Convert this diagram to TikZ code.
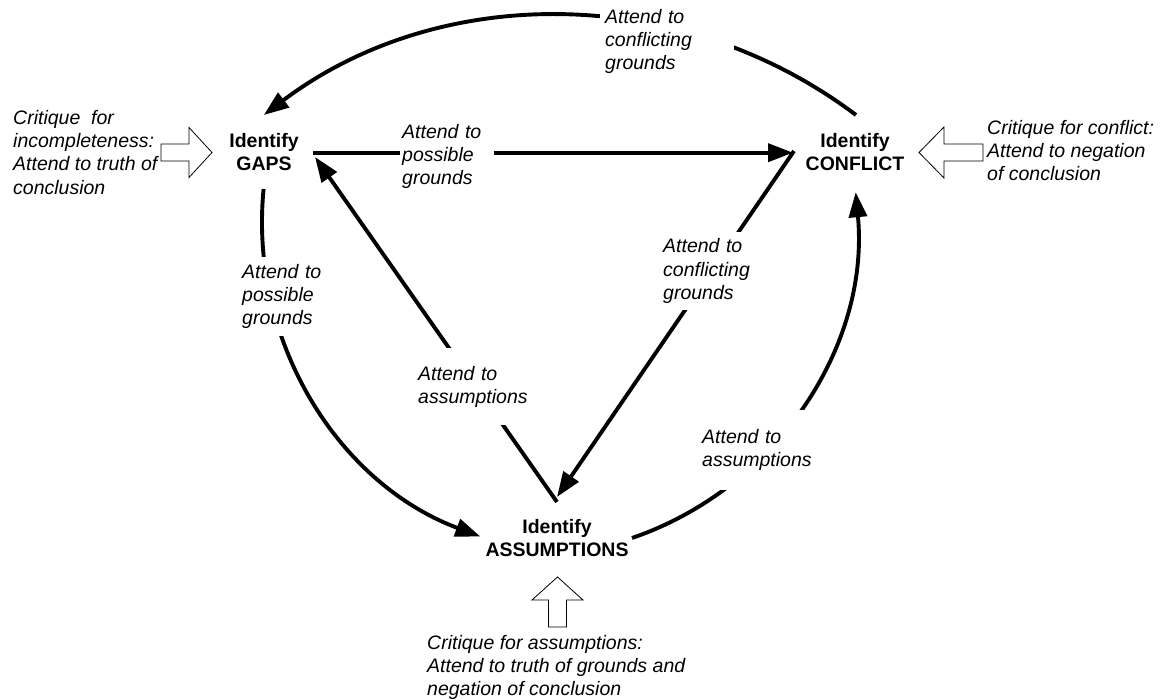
\documentclass[tikz,border=0pt]{standalone}
\usepackage{fontspec}
\setmainfont{Liberation Sans}
\usetikzlibrary{arrows.meta}
\begin{document}
\begin{tikzpicture}[x=1pt,y=1pt,
  conn/.style={line width=3.9pt, -{Triangle[length=25pt,width=18pt]}},
  idnode/.style={font=\bfseries\fontsize{19.5}{23.3}\selectfont, align=center, inner sep=0pt, anchor=north},
  crit/.style={font=\itshape\fontsize{19.5}{23.3}\selectfont, align=left, inner sep=0pt, anchor=north west},
  lbl/.style={font=\itshape\fontsize{19.5}{23.3}\selectfont, align=left, fill=white, anchor=north west},
  blockarr/.style={draw=black, fill=white, line width=0.8pt, line join=miter}
]
\useasboundingbox (0,0) rectangle (1161,-700);
\fill[white] (0,0) rectangle (1161,-700);

% main nodes
\node[idnode] (gaps) at (264,-132.8) {Identify\\GAPS};
\node[idnode] (conflict) at (855,-132.8) {Identify\\CONFLICT};
\node[idnode] (assump) at (557,-519.3) {Identify\\ASSUMPTIONS};

% connector end points
\coordinate (gapsE) at (313,-152.7);
\coordinate (confW) at (793,-152.7);
\coordinate (confWd) at (794,-151);
\coordinate (assumpTop) at (557,-497);
\coordinate (assumpV) at (557,-502);
\coordinate (gapsSE) at (315,-157);
\coordinate (confNW) at (856,-115);
\coordinate (gapsS) at (263.6,-189);
\coordinate (confS) at (856,-192);
\coordinate (assumpE) at (632,-538);

% connectors
\draw[conn] (confNW) arc[start angle=53, end angle=127, radius=492];
\draw[conn] (gapsE) -- (confW);
\draw[conn] (confWd) -- (assumpTop);
\draw[conn] (assumpV) -- (gapsSE);
\draw[conn] (gapsS) arc[start angle=174.4, end angle=249.5, radius=336];
\draw[conn] (assumpE) arc[start angle=-71.1, end angle=5.3, radius=333];

% connector labels
\node[lbl, text width=124pt, inner xsep=5pt, inner ysep=2pt] (lTop) at (600,-6.8) {Attend to\\conflicting\\grounds};
\node[lbl, text width=90pt, inner xsep=2pt, inner ysep=1pt] (lH) at (400,-122.8) {Attend to\\possible\\grounds};
\node[lbl, text width=86pt, inner xsep=2pt, inner ysep=7pt] (lLeft) at (240,-256.8) {Attend to\\possible\\grounds};
\node[lbl, text width=89pt, inner xsep=3pt, inner ysep=6.5pt] (lDR) at (660,-232) {Attend to\\conflicting\\grounds};
\node[lbl, text width=114pt, inner xsep=3pt, inner ysep=18pt] (lDL) at (415,-347.8) {Attend to\\assumptions};
\node[lbl, text width=108pt, inner xsep=2pt, inner ysep=19pt] (lRight) at (700,-410) {Attend to\\assumptions};

% block arrows
\draw[blockarr] (161,-144) -- (189,-144) -- (189,-127.5) -- (212,-152.5) -- (189,-177.5) -- (189,-161) -- (161,-161) -- cycle;
\draw[blockarr] (983,-144) -- (944,-144) -- (944,-127) -- (919,-152.5) -- (944,-178) -- (944,-161) -- (983,-161) -- cycle;
\draw[blockarr] (548.5,-627) -- (548.5,-600) -- (532,-600) -- (557.5,-577) -- (583,-600) -- (566.5,-600) -- (566.5,-627) -- cycle;

% critique texts
\node[crit] (critL) at (13,-110) {Critique\ \ for\\incompleteness:\\Attend to truth of\\conclusion};
\node[crit] (critR) at (987,-120) {Critique for conflict:\\Attend to negation\\of conclusion};
\node[crit] (critB) at (427,-635) {Critique for assumptions:\\Attend to truth of grounds and\\negation of conclusion};
\end{tikzpicture}
\end{document}
